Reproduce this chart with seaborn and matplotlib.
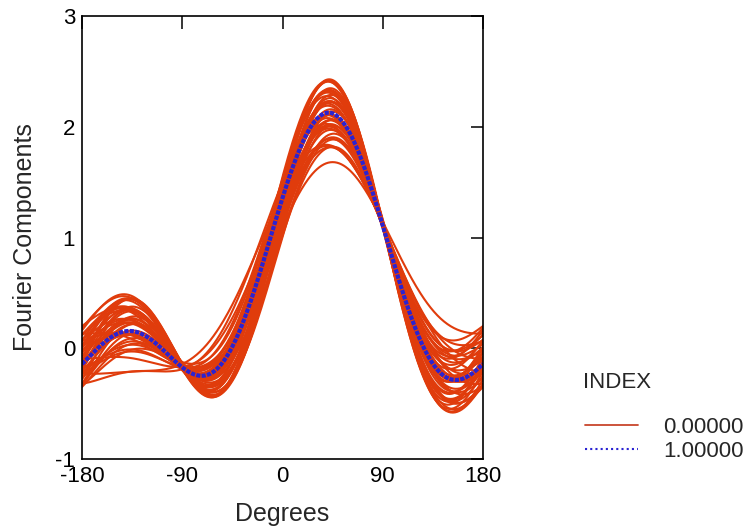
import numpy as np
import pandas as pd
import matplotlib
matplotlib.use("Agg")
import matplotlib.pyplot as plt
import seaborn as sns

# ---- data: observations (5 features each), Andrews-curve representation ----
# INDEX = 0.00000 group
feat1 = [0.77, 0.75, 0.78, 0.76, 0.74, 0.77, 0.76, 0.75, 0.78, 0.76,
         0.77, 0.75, 0.79, 0.76, 0.77, 0.74, 0.78, 0.76, 0.75, 0.77,
         0.76, 0.78, 0.75, 0.77, 0.76, 0.74, 0.77, 0.76, 0.78, 0.75,
         0.76, 0.77, 0.75, 0.78, 0.76, 0.74, 0.77, 0.76, 0.75, 0.78,
         0.77, 0.76, 0.75, 0.77]
feat2 = [0.64, 0.65, 0.63, 0.64, 0.65, 0.63, 0.66, 0.64, 0.64, 0.62,
         0.65, 0.63, 0.64, 0.64, 0.66, 0.63, 0.65, 0.63, 0.64, 0.65,
         0.62, 0.64, 0.65, 0.63, 0.64, 0.66, 0.63, 0.64, 0.65, 0.63,
         0.64, 0.62, 0.65, 0.64, 0.63, 0.65, 0.64, 0.66, 0.63, 0.65,
         0.64, 0.63, 0.66, 0.64]
feat3 = [0.41, 0.41, 0.46, 0.46, 0.51, 0.51, 0.51, 0.56, 0.56, 0.56,
         0.61, 0.61, 0.61, 0.66, 0.66, 0.66, 0.66, 0.71, 0.71, 0.71,
         0.71, 0.76, 0.76, 0.76, 0.76, 0.76, 0.81, 0.81, 0.81, 0.81,
         0.86, 0.86, 0.86, 0.86, 0.91, 0.91, 0.91, 0.94, 0.94, 0.48,
         0.71, 0.81, 0.91, 0.56]
feat4 = [0.65, 0.54, 0.69, 0.57, 0.72, 0.62, 0.54, 0.76, 0.66, 0.52,
         0.79, 0.70, 0.58, 0.83, 0.74, 0.62, 0.50, 0.86, 0.77, 0.65,
         0.52, 0.88, 0.80, 0.70, 0.58, 0.47, 0.85, 0.76, 0.64, 0.52,
         0.81, 0.72, 0.60, 0.48, 0.77, 0.67, 0.54, 0.73, 0.62, 0.33,
         0.32, 0.27, 0.37, 0.42]
feat5 = [0.05, 0.08, 0.07, 0.04, 0.06, 0.09, 0.05, 0.03, 0.07, 0.06,
         0.08, 0.05, 0.06, 0.04, 0.07, 0.06, 0.09, 0.05, 0.06, 0.03,
         0.07, 0.08, 0.06, 0.04, 0.07, 0.05, 0.06, 0.09, 0.05, 0.06,
         0.04, 0.07, 0.06, 0.08, 0.05, 0.06, 0.03, 0.07, 0.06, 0.06,
         0.07, 0.05, 0.06, 0.08]
# INDEX = 1.00000 observation
index1_features = [0.76, 0.64, 0.75, 0.60, 0.07]

index_labels = ["0.00000", "1.00000"]
x_ticks = [-180, -90, 0, 90, 180]
y_ticks = [-1, 0, 1, 2, 3]

# ---- build Andrews curves ----
deg = np.linspace(-180, 180, 361)
t = np.deg2rad(deg)


def andrews(x1, x2, x3, x4, x5):
    return (x1 / np.sqrt(2) + x2 * np.sin(t) + x3 * np.cos(t)
            + x4 * np.sin(2 * t) + x5 * np.cos(2 * t))


frames = []
for i, row in enumerate(zip(feat1, feat2, feat3, feat4, feat5)):
    frames.append(pd.DataFrame({"Degrees": deg, "Fourier": andrews(*row),
                                "obs": i, "INDEX": index_labels[0]}))
frames.append(pd.DataFrame({"Degrees": deg, "Fourier": andrews(*index1_features),
                            "obs": len(feat1), "INDEX": index_labels[1]}))
df = pd.concat(frames, ignore_index=True)

# ---- plot ----
sns.set_style("white")
plt.rcParams["font.family"] = ["Liberation Sans", "DejaVu Sans"]

fig = plt.figure(figsize=(7.55, 5.31), dpi=100)
ax = fig.add_axes([82 / 755, 1 - 459 / 531, 401 / 755, 443 / 531])

red = "#e03c0c"
blue = "#2a22d2"
sns.lineplot(data=df, x="Degrees", y="Fourier", units="obs", estimator=None,
             hue="INDEX", style="INDEX", size="INDEX",
             hue_order=index_labels, style_order=index_labels, size_order=index_labels,
             palette={index_labels[0]: red, index_labels[1]: blue},
             dashes={index_labels[0]: "", index_labels[1]: (1, 0.3)},
             sizes={index_labels[0]: 1.5, index_labels[1]: 3.0},
             ax=ax, legend="full")

leg = ax.get_legend()
handles = list(leg.legend_handles)
labels = [tx.get_text() for tx in leg.get_texts()]
leg.remove()
pairs = [(h, l) for h, l in zip(handles, labels) if l in index_labels]
for h, l in pairs:
    if l == index_labels[1]:
        h.set_linewidth(1.5)
        h.set_dashes((1, 1.5))
    else:
        h.set_linewidth(1.3)
        h.set_color("#c8452c")

fig.legend([p[0] for p in pairs], [p[1] for p in pairs], loc="upper left",
           bbox_to_anchor=(585 / 755, 1 - 417 / 531), frameon=False, fontsize=16,
           handlelength=2.4, handletextpad=1.1, labelspacing=0.12, borderpad=0,
           borderaxespad=0)
fig.text(583 / 755, 1 - 383 / 531, "INDEX", fontsize=16, va="center", ha="left")

ax.set_xlim(-180, 180)
ax.set_ylim(-1, 3)
ax.set_xticks(x_ticks)
ax.set_yticks(y_ticks)
ax.set_xticklabels([str(v) for v in x_ticks])
ax.set_yticklabels([str(v) for v in y_ticks])
ax.tick_params(direction="in", length=9, width=1.1, top=True, right=True,
               labelsize=16, pad=5, colors="black")
for s in ax.spines.values():
    s.set_linewidth(1.2)
    s.set_color("black")
ax.set_xlabel("Degrees", fontsize=18, labelpad=11)
ax.set_ylabel("Fourier Components", fontsize=18, labelpad=13)

fig.savefig("out.png", dpi=100)
